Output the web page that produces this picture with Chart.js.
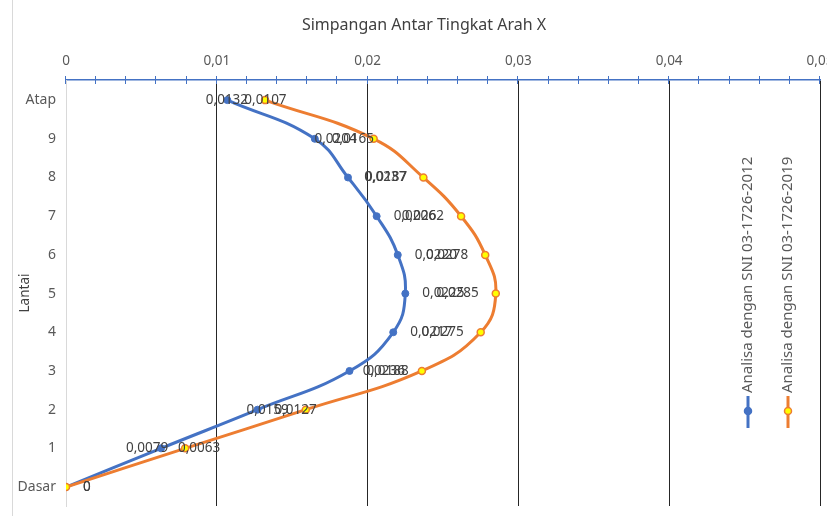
<!DOCTYPE html>
<html>
<head>
<meta charset="utf-8">
<script src="https://cdn.jsdelivr.net/npm/chart.js@4/dist/chart.umd.min.js"></script>
<style>
  html, body { margin: 0; padding: 0; background: #fff; }
  #wrap { width: 827px; height: 516px; }
</style>
</head>
<body>
<div id="wrap"><canvas id="c" width="827" height="516"></canvas></div>
<script>
// Storey names, bottom (0) to top (10)
const floors = ['Dasar', '1', '2', '3', '4', '5', '6', '7', '8', '9', 'Atap'];
// Inter-storey drift, direction X
const drift2012 = [0, 0.0063, 0.0127, 0.0188, 0.0217, 0.0225, 0.0220, 0.0206, 0.0187, 0.0165, 0.0107];
const drift2019 = [0, 0.0079, 0.0159, 0.0236, 0.0275, 0.0285, 0.0278, 0.0262, 0.0237, 0.0204, 0.0132];
const seriesNames = ['Analisa dengan SNI 03-1726-2012', 'Analisa dengan SNI 03-1726-2019'];
const xTickValues = [0, 0.01, 0.02, 0.03, 0.04, 0.05];
const chartTitle = 'Simpangan Antar Tingkat Arah X';

const BLUE = '#4472C4';
const ORANGE = '#ED7D31';
const FONT = 'Noto Sans';

const fmtValue = v => v === 0 ? '0' : v.toFixed(4).replace('.', ',');
const fmtTick = v => v === 0 ? '0' : v.toFixed(2).replace('.', ',');
const toPoints = arr => arr.map((v, i) => ({ x: v, y: i }));

// value labels beside each marker
const valueLabels = {
  id: 'valueLabels',
  afterDatasetsDraw(chart) {
    const ctx = chart.ctx;
    ctx.save();
    ctx.font = '13.5px "' + FONT + '"';
    ctx.fillStyle = '#404040';
    ctx.textBaseline = 'middle';
    chart.data.datasets.forEach((ds, di) => {
      const meta = chart.getDatasetMeta(di);
      meta.data.forEach((pt, i) => {
        const v = ds.data[i].x;
        if (di === 0 || v === 0) {
          ctx.textAlign = 'left';
          ctx.fillText(fmtValue(v), pt.x + 17, pt.y);
        } else {
          ctx.textAlign = 'right';
          ctx.fillText(fmtValue(v), pt.x - 17, pt.y);
        }
      });
    });
    ctx.restore();
  }
};

// crossing tick marks on the top axis (major and minor)
const axisTicks = {
  id: 'axisTicks',
  afterDraw(chart) {
    const sx = chart.scales.x;
    const top = chart.chartArea.top;
    const ctx = chart.ctx;
    ctx.save();
    ctx.strokeStyle = BLUE;
    ctx.lineWidth = 1;
    for (let k = 0; k <= 25; k++) {
      const px = Math.round(sx.getPixelForValue(k * 0.002)) - 0.5;
      ctx.beginPath();
      ctx.moveTo(px, top - 4);
      ctx.lineTo(px, top + 4);
      ctx.stroke();
    }
    ctx.restore();
  }
};

// title, vertical legend at the right side and left frame line
const decorations = {
  id: 'decorations',
  afterDraw(chart) {
    const ctx = chart.ctx;
    ctx.save();
    ctx.font = '16px "' + FONT + '"';
    ctx.fillStyle = '#404040';
    ctx.textAlign = 'center';
    ctx.textBaseline = 'middle';
    ctx.fillText(chartTitle, 424, 25);

    const xs = [748, 788];
    const colors = [BLUE, ORANGE];
    const fills = [BLUE, '#FFFF00'];
    xs.forEach((x, i) => {
      ctx.strokeStyle = colors[i];
      ctx.lineWidth = 3;
      ctx.beginPath();
      ctx.moveTo(x, 396);
      ctx.lineTo(x, 428);
      ctx.stroke();
      ctx.beginPath();
      ctx.arc(x, 411, 3.5, 0, Math.PI * 2);
      ctx.fillStyle = fills[i];
      ctx.fill();
      ctx.lineWidth = 1.5;
      ctx.strokeStyle = colors[i];
      ctx.stroke();
      ctx.save();
      ctx.translate(x, 393);
      ctx.rotate(-Math.PI / 2);
      ctx.font = '15px "' + FONT + '"';
      ctx.fillStyle = '#595959';
      ctx.textAlign = 'left';
      ctx.textBaseline = 'middle';
      ctx.fillText(seriesNames[i], 0, 0);
      ctx.restore();
    });

    ctx.strokeStyle = '#d9d9d9';
    ctx.lineWidth = 1;
    ctx.beginPath();
    ctx.moveTo(12.5, 0);
    ctx.lineTo(12.5, 516);
    ctx.stroke();
    ctx.restore();
  }
};

new Chart(document.getElementById('c'), {
  type: 'scatter',
  data: {
    datasets: [
      {
        label: seriesNames[0],
        data: toPoints(drift2012),
        showLine: true,
        borderColor: BLUE,
        backgroundColor: BLUE,
        borderWidth: 3,
        tension: 0.45,
        pointRadius: 3.5,
        pointBorderWidth: 1,
        pointBackgroundColor: BLUE,
        pointBorderColor: BLUE,
        order: 1
      },
      {
        label: seriesNames[1],
        data: toPoints(drift2019),
        showLine: true,
        borderColor: ORANGE,
        backgroundColor: ORANGE,
        borderWidth: 3,
        tension: 0.45,
        pointRadius: 3.5,
        pointBorderWidth: 1.5,
        pointBackgroundColor: '#FFFF00',
        pointBorderColor: ORANGE,
        order: 0
      }
    ]
  },
  options: {
    responsive: false,
    animation: false,
    layout: { padding: { left: 0, right: 7, top: 40, bottom: 10 } },
    plugins: {
      legend: { display: false },
      tooltip: { enabled: false },
      title: { display: false }
    },
    scales: {
      x: {
        type: 'linear',
        position: 'top',
        min: 0,
        max: 0.05,
        afterBuildTicks(s) { s.ticks = xTickValues.map(v => ({ value: v })); },
        afterFit(s) { s.height = 40; s.paddingLeft = 0; s.paddingRight = 0; },
        ticks: {
          padding: 11,
          color: '#595959',
          font: { family: FONT, size: 13.5 },
          callback: v => fmtTick(v)
        },
        grid: {
          drawTicks: false,
          lineWidth: 1,
          color: ctx => (ctx.tick && ctx.tick.value === 0) ? 'rgba(0,0,0,0)' : '#262626'
        },
        border: { display: true, color: BLUE, width: 1.5 }
      },
      y: {
        type: 'linear',
        min: -0.49,
        max: 10.52,
        afterBuildTicks(s) { s.ticks = floors.map((f, i) => ({ value: i })); },
        afterFit(s) { s.width = 66; s.paddingTop = 0; s.paddingBottom = 0; },
        ticks: {
          padding: 10,
          color: '#595959',
          font: { family: FONT, size: 14 },
          callback: v => floors[v]
        },
        grid: { display: false, drawTicks: false },
        border: { display: true, color: '#d9d9d9', width: 1 },
        title: {
          display: true,
          text: 'Lantai',
          color: '#404040',
          font: { family: FONT, size: 13.5, lineHeight: '16px' },
          padding: { top: 17, bottom: 0 }
        }
      }
    }
  },
  plugins: [valueLabels, axisTicks, decorations]
});
</script>
</body>
</html>
